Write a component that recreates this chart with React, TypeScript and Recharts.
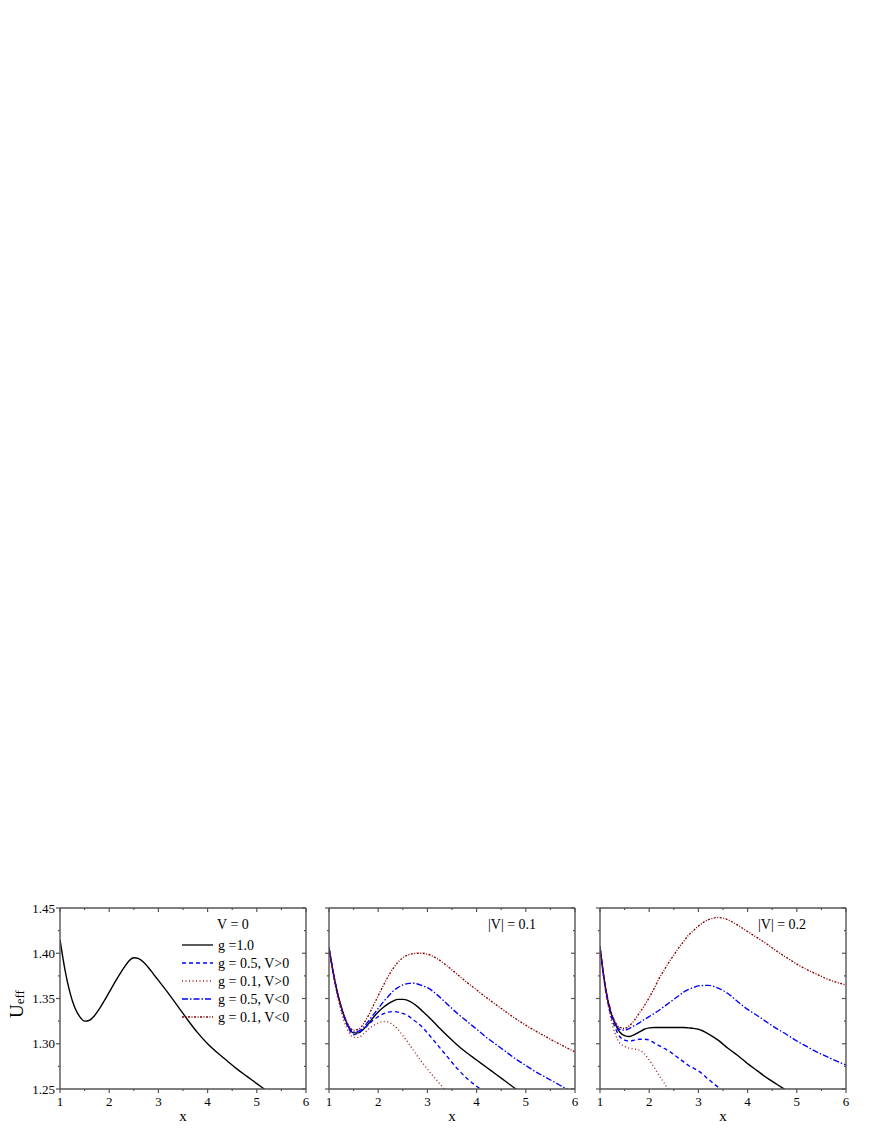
import React from 'react'
import { LineChart, Line, XAxis, YAxis } from 'recharts'

// shared x grid (x = r / M)
const X_GRID = [
  1.0, 1.1, 1.2, 1.3, 1.4, 1.5, 1.6, 1.7, 1.8, 1.9, 2.0, 2.1, 2.2, 2.3, 2.4, 2.5, 2.6, 2.7, 2.8, 2.9,
  3.0, 3.2, 3.4, 3.6, 3.8, 4.0, 4.2, 4.4, 4.6, 4.8, 5.0, 5.2, 5.4, 5.6, 5.8, 6.0,
]

const X_TICKS = [1, 1.5, 2, 2.5, 3, 3.5, 4, 4.5, 5, 5.5, 6]
const Y_TICKS = [1.25, 1.275, 1.3, 1.325, 1.35, 1.375, 1.4, 1.425, 1.45]

// panel 1: V = 0
const V0_G10 = [
  1.415, 1.382, 1.357, 1.340, 1.330, 1.325, 1.326, 1.331, 1.3385, 1.3475, 1.357, 1.3665, 1.3755, 1.384, 1.3915, 1.395, 1.394, 1.390, 1.384, 1.377,
  1.370, 1.356, 1.341, 1.326, 1.312, 1.300, 1.290, 1.281, 1.272, 1.264, 1.256, 1.248, null, null, null, null,
]

// panel 2: |V| = 0.1
const V1_G10 = [
  1.406, 1.375, 1.350, 1.332, 1.318, 1.312, 1.312, 1.316, 1.322, 1.329, 1.335, 1.340, 1.344, 1.347, 1.349, 1.349, 1.348, 1.345, 1.341, 1.336,
  1.331, 1.320, 1.309, 1.299, 1.290, 1.282, 1.274, 1.266, 1.258, 1.250, 1.243, null, null, null, null, null,
]
const V1_G05_POS = [
  1.406, 1.374, 1.349, 1.330, 1.317, 1.310, 1.312, 1.316, 1.321, 1.326, 1.330, 1.333, 1.335, 1.3355, 1.335, 1.3335, 1.331, 1.327, 1.323, 1.318,
  1.312, 1.299, 1.286, 1.273, 1.262, 1.253, 1.245, null, null, null, null, null, null, null, null, null,
]
const V1_G01_POS = [
  1.406, 1.372, 1.346, 1.326, 1.313, 1.307, 1.307, 1.311, 1.316, 1.320, 1.323, 1.3245, 1.324, 1.321, 1.316, 1.309, 1.302, 1.294, 1.286, 1.279,
  1.272, 1.259, 1.246, null, null, null, null, null, null, null, null, null, null, null, null, null,
]
const V1_G05_NEG = [
  1.406, 1.375, 1.350, 1.332, 1.319, 1.313, 1.314, 1.318, 1.325, 1.332, 1.339, 1.346, 1.352, 1.358, 1.362, 1.365, 1.3665, 1.367, 1.366, 1.364,
  1.362, 1.354, 1.344, 1.334, 1.325, 1.316, 1.307, 1.299, 1.291, 1.283, 1.276, 1.269, 1.263, 1.257, 1.251, 1.246,
]
const V1_G01_NEG = [
  1.406, 1.374, 1.350, 1.332, 1.320, 1.315, 1.316, 1.322, 1.331, 1.342, 1.353, 1.364, 1.374, 1.383, 1.390, 1.395, 1.398, 1.3995, 1.400, 1.400,
  1.399, 1.394, 1.386, 1.377, 1.368, 1.3595, 1.351, 1.343, 1.335, 1.3275, 1.3205, 1.314, 1.308, 1.302, 1.2965, 1.291,
]

// panel 3: |V| = 0.2
const V2_G10 = [
  1.407, 1.366, 1.338, 1.323, 1.313, 1.309, 1.308, 1.310, 1.313, 1.316, 1.3175, 1.318, 1.318, 1.318, 1.318, 1.318, 1.318, 1.318, 1.3175, 1.317,
  1.316, 1.311, 1.304, 1.295, 1.287, 1.278, 1.270, 1.262, 1.255, 1.248, null, null, null, null, null, null,
]
const V2_G05_POS = [
  1.407, 1.364, 1.336, 1.319, 1.308, 1.304, 1.303, 1.304, 1.305, 1.305, 1.304, 1.301, 1.298, 1.295, 1.292, 1.288, 1.284, 1.280, 1.276, 1.273,
  1.270, 1.261, 1.252, 1.244, null, null, null, null, null, null, null, null, null, null, null, null,
]
const V2_G01_POS = [
  1.407, 1.363, 1.333, 1.312, 1.301, 1.297, 1.295, 1.294, 1.293, 1.289, 1.282, 1.274, 1.265, 1.257, 1.248, null, null, null, null, null,
  null, null, null, null, null, null, null, null, null, null, null, null, null, null, null, null,
]
const V2_G05_NEG = [
  1.407, 1.366, 1.340, 1.324, 1.316, 1.315, 1.317, 1.320, 1.323, 1.327, 1.330, 1.3335, 1.337, 1.341, 1.345, 1.349, 1.353, 1.357, 1.360, 1.362,
  1.364, 1.3645, 1.3615, 1.3555, 1.3465, 1.338, 1.331, 1.3235, 1.3165, 1.310, 1.303, 1.297, 1.291, 1.286, 1.281, 1.2765,
]
const V2_G01_NEG = [
  1.407, 1.366, 1.340, 1.325, 1.318, 1.317, 1.320, 1.326, 1.334, 1.342, 1.351, 1.361, 1.372, 1.381, 1.390, 1.398, 1.406, 1.413, 1.420, 1.425,
  1.430, 1.437, 1.4395, 1.437, 1.431, 1.424, 1.417, 1.410, 1.402, 1.395, 1.388, 1.382, 1.377, 1.372, 1.368, 1.365,
]

const SERIES_STYLE = [
  { key: 'g10', label: 'g =1.0', color: '#000000', dash: undefined as string | undefined },
  { key: 'g05p', label: 'g = 0.5, V>0', color: '#0000ff', dash: '4 3' },
  { key: 'g01p', label: 'g = 0.1, V>0', color: '#a01818', dash: '1 2.5' },
  { key: 'g05n', label: 'g = 0.5, V<0', color: '#0000ff', dash: '6 2 1.5 2' },
  { key: 'g01n', label: 'g = 0.1, V<0', color: '#8b0000', dash: '2 1.5 1 1.5' },
]

const FONT = '"Liberation Serif", "Times New Roman", serif'
const AXIS = '#555555'

function buildRows(cols: Record<string, (number | null)[]>) {
  return X_GRID.map((x, i) => {
    const row: Record<string, number | null> = { x }
    for (const k of Object.keys(cols)) row[k] = cols[k][i]
    return row
  })
}

const isMajorX = (v: number) => Math.abs(v - Math.round(v)) < 1e-6
const isMajorY = (v: number) => Math.abs(v * 20 - Math.round(v * 20)) < 1e-6

function BottomTick(props: any) {
  const { x, y, payload } = props
  const major = isMajorX(payload.value)
  return (
    <g>
      <line x1={x} y1={y} x2={x} y2={y + (major ? 4 : 2)} stroke={AXIS} strokeWidth={1.2} />
      {major && (
        <text x={x} y={y + 17} textAnchor="middle" fontSize={13} fontFamily={FONT} fill="#000">
          {payload.value}
        </text>
      )}
    </g>
  )
}

function TopTick(props: any) {
  const { x, y, payload } = props
  const major = isMajorX(payload.value)
  return <line x1={x} y1={y} x2={x} y2={y + (major ? 4 : 2)} stroke={AXIS} strokeWidth={1.2} />
}

function makeLeftTick(showLabel: boolean) {
  return function LeftTick(props: any) {
    const { x, y, payload } = props
    const major = isMajorY(payload.value)
    return (
      <g>
        <line x1={x} y1={y} x2={x - (major ? 4 : 2)} y2={y} stroke={AXIS} strokeWidth={1.2} />
        {showLabel && major && (
          <text x={x - 5} y={y + 4.5} textAnchor="end" fontSize={13} fontFamily={FONT} fill="#000">
            {payload.value.toFixed(2)}
          </text>
        )}
      </g>
    )
  }
}

function RightTick(props: any) {
  const { x, y, payload } = props
  const major = isMajorY(payload.value)
  return <line x1={x} y1={y} x2={x - (major ? 4 : 2)} y2={y} stroke={AXIS} strokeWidth={1.2} />
}

function Panel({ left, rows, keys, showYLabels }: { left: number; rows: any[]; keys: string[]; showYLabels: boolean }) {
  const LeftTick = makeLeftTick(showYLabels)
  return (
    <div style={{ position: 'absolute', left, top: 900 }}>
      <LineChart width={320} height={228} data={rows} margin={{ top: 8, right: 14, bottom: 0, left: 0 }}>
        <XAxis
          xAxisId="b"
          dataKey="x"
          type="number"
          domain={[1, 6]}
          ticks={X_TICKS}
          interval={0}
          allowDataOverflow
          tickSize={0}
          tickMargin={0}
          tickLine={false}
          axisLine={{ stroke: AXIS, strokeWidth: 1.4 }}
          height={39}
          tick={(p: any) => <BottomTick {...p} />}
          label={{ value: 'x', position: 'insideBottom', offset: 7, fontSize: 15, fontFamily: FONT, fill: '#000' }}
        />
        <XAxis
          xAxisId="t"
          orientation="top"
          mirror
          dataKey="x"
          type="number"
          domain={[1, 6]}
          ticks={X_TICKS}
          interval={0}
          allowDataOverflow
          tickSize={0}
          tickMargin={0}
          tickLine={false}
          axisLine={{ stroke: AXIS, strokeWidth: 1.4 }}
          tick={(p: any) => <TopTick {...p} />}
        />
        <YAxis
          yAxisId="l"
          type="number"
          domain={[1.25, 1.45]}
          ticks={Y_TICKS}
          interval={0}
          allowDataOverflow
          width={60}
          tickSize={0}
          tickMargin={0}
          tickLine={false}
          axisLine={{ stroke: AXIS, strokeWidth: 1.4 }}
          tick={(p: any) => <LeftTick {...p} />}
        />
        <YAxis
          yAxisId="r"
          orientation="right"
          mirror
          type="number"
          domain={[1.25, 1.45]}
          ticks={Y_TICKS}
          interval={0}
          allowDataOverflow
          tickSize={0}
          tickMargin={0}
          tickLine={false}
          axisLine={{ stroke: AXIS, strokeWidth: 1.4 }}
          tick={(p: any) => <RightTick {...p} />}
        />
        {SERIES_STYLE.filter((s) => keys.includes(s.key)).map((s) => (
          <Line
            key={s.key}
            xAxisId="b"
            yAxisId="l"
            dataKey={s.key}
            type="monotone"
            stroke={s.color}
            strokeWidth={s.key === 'g10' ? 1.4 : 1.35}
            strokeDasharray={s.dash}
            dot={false}
            activeDot={false}
            isAnimationActive={false}
          />
        ))}
      </LineChart>
    </div>
  )
}

const rowsV0 = buildRows({ g10: V0_G10 })
const rowsV1 = buildRows({ g10: V1_G10, g05p: V1_G05_POS, g01p: V1_G01_POS, g05n: V1_G05_NEG, g01n: V1_G01_NEG })
const rowsV2 = buildRows({ g10: V2_G10, g05p: V2_G05_POS, g01p: V2_G01_POS, g05n: V2_G05_NEG, g01n: V2_G01_NEG })

export default function App() {
  return (
    <div style={{ position: 'absolute', left: 0, top: 0, width: 872, height: 1128, background: '#fff', fontFamily: FONT }}>
      <Panel left={0} rows={rowsV0} keys={['g10']} showYLabels />
      <Panel left={269} rows={rowsV1} keys={SERIES_STYLE.map((s) => s.key)} showYLabels={false} />
      <Panel left={540} rows={rowsV2} keys={SERIES_STYLE.map((s) => s.key)} showYLabels={false} />
      <svg width={872} height={1128} style={{ position: 'absolute', left: 0, top: 0, pointerEvents: 'none' }}>
        <text transform="translate(23,1018) rotate(-90)" fontFamily={FONT} fill="#000">
          <tspan fontSize={19}>U</tspan>
          <tspan fontSize={13} dy={1}>eff</tspan>
        </text>
        <text x={233} y={929} textAnchor="middle" fontSize={14} fontFamily={FONT}>V = 0</text>
        {SERIES_STYLE.map((s, i) => {
          const cy = 945 + i * 18
          return (
            <g key={s.key}>
              <line x1={182} x2={213} y1={cy} y2={cy} stroke={s.color} strokeWidth={1.3} strokeDasharray={s.dash} />
              <text x={218} y={cy + 5} fontSize={14} fontFamily={FONT}>{s.label}</text>
            </g>
          )
        })}
        <text x={488} y={929} fontSize={14} fontFamily={FONT}>|V| = 0.1</text>
        <text x={758} y={929} fontSize={14} fontFamily={FONT}>|V| = 0.2</text>
      </svg>
    </div>
  )
}
